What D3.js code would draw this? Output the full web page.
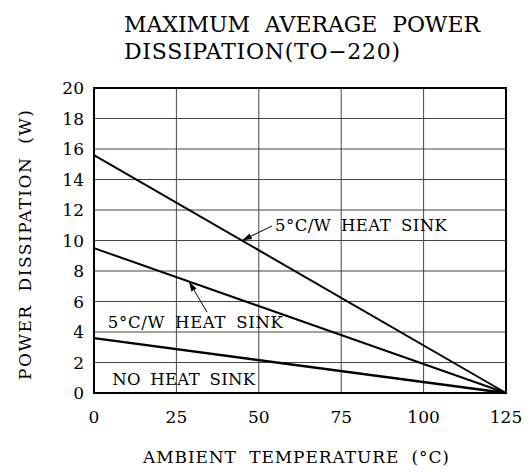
<!DOCTYPE html>
<html>
<head>
<meta charset="utf-8">
<script src="https://cdn.jsdelivr.net/npm/d3@7"></script>
<style>
body { margin: 0; background: #fff; }
text { font-family: "DejaVu Serif", "Liberation Serif", serif; fill: #000; }
</style>
</head>
<body>
<div id="chart"></div>
<script>
// derating curves, power (W) at 0 C falling to 0 W at 125 C
var temps = [0, 125];
var heatSink5a = [15.6, 0];
var heatSink5b = [9.5, 0];
var noHeatSink = [3.6, 0];
var xTicks = [0, 25, 50, 75, 100, 125];
var yTicks = [0, 2, 4, 6, 8, 10, 12, 14, 16, 18, 20];

var width = 532, height = 476;
var margin = {left: 94, right: 26, top: 88, bottom: 83};

var svg = d3.select("#chart").append("svg")
    .attr("width", width).attr("height", height);

var x = d3.scaleLinear().domain([0, 125]).range([margin.left, width - margin.right]);
var y = d3.scaleLinear().domain([0, 20]).range([height - margin.bottom, margin.top]);

// grid
svg.append("g").selectAll("line.v")
    .data(xTicks.slice(1, -1))
    .enter().append("line")
    .attr("x1", function(d) { return x(d); }).attr("x2", function(d) { return x(d); })
    .attr("y1", y(0)).attr("y2", y(20))
    .style("stroke", "#444").style("stroke-width", 1);
svg.append("g").selectAll("line.h")
    .data(yTicks.slice(1, -1))
    .enter().append("line")
    .attr("x1", x(0)).attr("x2", x(125))
    .attr("y1", function(d) { return y(d); }).attr("y2", function(d) { return y(d); })
    .style("stroke", "#444").style("stroke-width", 1);

// tick labels
svg.append("g").selectAll("text")
    .data(yTicks)
    .enter().append("text")
    .attr("x", 84)
    .attr("y", function(d) { return y(d) + 6; })
    .attr("text-anchor", "end")
    .style("font-size", "17px")
    .text(function(d) { return d; });
svg.append("g").selectAll("text")
    .data(xTicks)
    .enter().append("text")
    .attr("x", function(d) { return x(d); })
    .attr("y", 423)
    .attr("text-anchor", "middle")
    .style("font-size", "17px")
    .text(function(d) { return d; });

// curves
var line = d3.line()
    .x(function(d) { return x(d[0]); })
    .y(function(d) { return y(d[1]); });
[heatSink5a, heatSink5b, noHeatSink].forEach(function(s, i) {
    svg.append("path")
        .datum(temps.map(function(t, j) { return [t, s[j]]; }))
        .attr("d", line)
        .style("fill", "none")
        .style("stroke", "#000")
        .style("stroke-width", i == 2 ? 2.4 : 2);
});

// frame
svg.append("rect")
    .attr("x", x(0)).attr("y", y(20))
    .attr("width", x(125) - x(0)).attr("height", y(0) - y(20))
    .style("fill", "none").style("stroke", "#000").style("stroke-width", 2);

// arrows
svg.append("defs").append("marker")
    .attr("id", "head")
    .attr("viewBox", "0 0 10 10")
    .attr("refX", 10).attr("refY", 5)
    .attr("markerWidth", 10).attr("markerHeight", 10)
    .attr("markerUnits", "userSpaceOnUse")
    .attr("orient", "auto")
    .append("path").attr("d", "M0,2L10,5L0,8Z").style("fill", "#000");

function onLine(s, t) { return s[0] * (1 - t / 125); }
var arrows = [
    {from: [54, 10.95], to: [44.9, onLine(heatSink5a, 44.9)]},
    {from: [34.3, 5.3], to: [28.8, onLine(heatSink5b, 28.8)]}
];
arrows.forEach(function(a) {
    svg.append("line")
        .attr("x1", x(a.from[0])).attr("y1", y(a.from[1]))
        .attr("x2", x(a.to[0])).attr("y2", y(a.to[1]))
        .style("stroke", "#000").style("stroke-width", 1)
        .attr("marker-end", "url(#head)");
});

// curve labels
var labels = [
    {t: 54.9, p: 10.6, text: "5°C/W HEAT SINK", w: 172},
    {t: 4.2, p: 4.26, text: "5°C/W HEAT SINK", w: 175},
    {t: 5.5, p: 0.52, text: "NO HEAT SINK", w: 143}
];
labels.forEach(function(l) {
    svg.append("text")
        .attr("x", x(l.t)).attr("y", y(l.p))
        .attr("textLength", l.w).attr("lengthAdjust", "spacing")
        .style("font-size", "16.5px")
        .style("word-spacing", "4px")
        .text(l.text);
});

// titles
svg.append("text")
    .attr("x", 124).attr("y", 32)
    .attr("textLength", 356).attr("lengthAdjust", "spacing")
    .style("font-size", "22px")
    .style("word-spacing", "8px")
    .text("MAXIMUM AVERAGE POWER");
svg.append("text")
    .attr("x", 124).attr("y", 59)
    .attr("textLength", 276).attr("lengthAdjust", "spacing")
    .style("font-size", "22px")
    .text("DISSIPATION(TO−220)");

svg.append("text")
    .attr("x", 296).attr("y", 463)
    .attr("text-anchor", "middle")
    .attr("textLength", 306).attr("lengthAdjust", "spacing")
    .style("font-size", "17px")
    .style("word-spacing", "6px")
    .text("AMBIENT TEMPERATURE (°C)");
svg.append("text")
    .attr("transform", "translate(31,245) rotate(-90)")
    .attr("text-anchor", "middle")
    .attr("textLength", 270).attr("lengthAdjust", "spacing")
    .style("font-size", "17px")
    .style("word-spacing", "6px")
    .text("POWER DISSIPATION (W)");
</script>
</body>
</html>
